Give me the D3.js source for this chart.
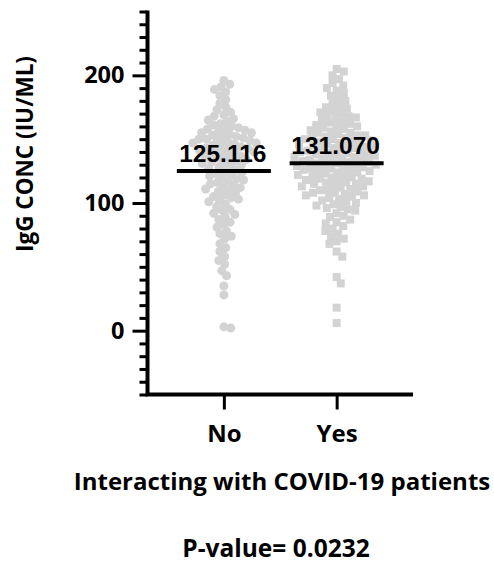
<!DOCTYPE html>
<html>
<head>
<meta charset="utf-8">
<script src="https://cdn.jsdelivr.net/npm/d3@7"></script>
<style>
  html, body { margin: 0; padding: 0; background: #fff; }
  svg { display: block; }
</style>
</head>
<body>
<svg id="chart" width="494" height="563"></svg>
<script>
// ---- data ----
const categories = ["No", "Yes"];
const noValues = [
  196, 193, 191, 189, 187, 184, 181,
  178, 175, 173, 171,
  169, 168, 166, 165, 164, 162, 161, 160,
  159, 158, 158, 157, 156, 155, 155, 154, 153, 152, 152, 151, 150, 150,
  149, 149, 148, 147, 147, 146, 145, 145, 144, 143, 143, 142, 141, 141, 140, 140,
  139, 138, 137, 136, 136, 135, 134, 133, 132, 132, 131, 130,
  129, 128, 127, 126, 125, 124, 123, 122, 121, 120,
  119, 118, 117, 116, 115, 114, 113, 112, 111, 110,
  109, 108, 106, 105, 104, 103, 102, 101,
  99, 97, 95, 94, 92, 91,
  89, 87, 85, 83, 81,
  78, 76, 74, 72,
  68, 65, 62,
  58, 55, 52,
  47, 43,
  35, 28,
  3, 2
];
const yesValues = [
  205, 203, 200, 197,
  194, 192, 190, 188, 186,
  184, 182, 180, 178, 176,
  175, 174, 172, 171, 170, 169, 168, 167, 166,
  165, 164, 163, 162, 161, 160, 160, 159, 158, 157, 156, 155,
  155, 154, 153, 153, 152, 151, 151, 150, 150, 149, 149, 148, 147, 147, 146, 146, 145, 145,
  144, 144, 143, 143, 142, 141, 141, 140, 140, 139, 139, 138, 138, 137, 137, 136, 136, 135,
  135, 134, 134, 133, 133, 132, 132, 131, 131, 130, 130, 129, 129, 128, 128, 127, 127, 126, 126, 125,
  125, 124, 124, 123, 122, 122, 121, 120, 120, 119, 119, 118, 118, 117, 116, 116, 115, 115,
  114, 113, 113, 112, 111, 110, 110, 109, 108, 108, 107, 106, 106, 105,
  104, 103, 102, 101, 100, 99, 98, 97, 96, 95,
  94, 92, 90, 89, 87, 85,
  84, 82, 80, 78, 76,
  74, 72, 70, 68,
  62, 58, 42, 37, 18, 6
];
const means = [125.116, 131.070];
const meanLabels = ["125.116", "131.070"];
const yMajorTicks = [0, 100, 200];
const yTickLabels = ["0", "100", "200"];
const yLabel = "IgG CONC (IU/ML)";
const xLabel = "Interacting with COVID-19 patients";
const pValueText = "P-value= 0.0232";

// ---- layout ----
const svg = d3.select("#chart");
const labelFont = "'Open Sans', Lato, sans-serif";
const numFont = "'Liberation Sans', Arial, sans-serif";
const grey = "#d3d3d3";

const y = d3.scaleLinear().domain([-50, 250]).range([394.5, 11.5]);
const x = d3.scalePoint().domain(categories).range([147.5, 413]).padding(0.677);

// beeswarm placement
function dodge(vals, d) {
  const placed = [];
  return vals.map(v => {
    const py = y(v);
    const near = placed.filter(p => Math.abs(p.y - py) < d);
    const cands = [0];
    near.forEach(p => {
      const dx = Math.sqrt(d * d - (p.y - py) ** 2);
      cands.push(p.x + dx, p.x - dx);
    });
    cands.sort((a, b) => Math.abs(a) - Math.abs(b));
    const px = cands.find(c => near.every(p => (p.x - c) ** 2 + (p.y - py) ** 2 >= d * d - 1e-6));
    placed.push({ x: px, y: py });
    return { v, x: px, y: py };
  });
}

const noPts = dodge(noValues, 7);
const yesPts = dodge(yesValues, 7.6);

// points
svg.append("g").selectAll("circle").data(noPts).join("circle")
  .attr("cx", d => x("No") + d.x)
  .attr("cy", d => d.y)
  .attr("r", 4.5)
  .attr("fill", grey);

const sq = 8;
svg.append("g").selectAll("rect").data(yesPts).join("rect")
  .attr("x", d => x("Yes") + d.x - sq / 2)
  .attr("y", d => d.y - sq / 2)
  .attr("width", sq)
  .attr("height", sq)
  .attr("fill", grey);

// mean lines
const meanG = svg.append("g");
meanG.selectAll("line").data(categories).join("line")
  .attr("x1", c => x(c) - 47)
  .attr("x2", c => x(c) + 47)
  .attr("y1", (c, i) => y(means[i]))
  .attr("y2", (c, i) => y(means[i]))
  .attr("stroke", "#000")
  .attr("stroke-width", 4);
meanG.selectAll("text").data(categories).join("text")
  .attr("x", c => x(c) - 1)
  .attr("y", (c, i) => y(means[i]) - 9)
  .attr("text-anchor", "middle")
  .attr("font-family", numFont)
  .attr("font-weight", "bold")
  .attr("font-size", 24.5)
  .attr("fill", "#000")
  .text((c, i) => meanLabels[i]);

// y axis minor ticks
const minorTicks = d3.range(-50, 251, 10).filter(v => !yMajorTicks.includes(v));
const yMinor = svg.append("g").attr("transform", "translate(147.5,0)")
  .call(d3.axisLeft(y).tickValues(minorTicks).tickSize(8).tickFormat(""));
yMinor.select(".domain").remove();
yMinor.selectAll(".tick line").attr("stroke", "#000").attr("stroke-width", 3);

// y axis major ticks
const yMajor = svg.append("g").attr("transform", "translate(147.5,0)")
  .call(d3.axisLeft(y).tickValues(yMajorTicks).tickSize(15).tickPadding(8)
    .tickFormat((d, i) => yTickLabels[i]));
yMajor.select(".domain").remove();
yMajor.selectAll(".tick line").attr("stroke", "#000").attr("stroke-width", 3);
yMajor.selectAll(".tick text")
  .attr("font-family", labelFont)
  .attr("font-weight", "bold")
  .attr("font-size", 23.5)
  .attr("fill", "#000");

// x axis
const xAxis = svg.append("g").attr("transform", "translate(0,394.5)")
  .call(d3.axisBottom(x).tickSize(15).tickSizeOuter(0).tickPadding(15));
xAxis.select(".domain").remove();
xAxis.selectAll(".tick line").attr("stroke", "#000").attr("stroke-width", 3);
xAxis.selectAll(".tick text")
  .attr("font-family", labelFont)
  .attr("font-weight", "bold")
  .attr("font-size", 24)
  .attr("fill", "#000");

// axis lines
svg.append("path")
  .attr("d", `M${x.range()[0]},${y.range()[1] - 1}V${y.range()[0]}H${x.range()[1]}`)
  .attr("fill", "none")
  .attr("stroke", "#000")
  .attr("stroke-width", 4)
  .attr("stroke-linejoin", "miter");

// titles
svg.append("text")
  .attr("transform", "translate(33,154) rotate(-90)")
  .attr("text-anchor", "middle")
  .attr("font-family", labelFont)
  .attr("font-weight", "bold")
  .attr("font-size", 22.5)
  .attr("fill", "#000")
  .text(yLabel);

svg.append("text")
  .attr("x", 282).attr("y", 490)
  .attr("text-anchor", "middle")
  .attr("font-family", labelFont)
  .attr("font-weight", "bold")
  .attr("font-size", 24)
  .attr("fill", "#000")
  .text(xLabel);

svg.append("text")
  .attr("x", 276).attr("y", 557)
  .attr("text-anchor", "middle")
  .attr("font-family", labelFont)
  .attr("font-weight", "bold")
  .attr("font-size", 24.5)
  .attr("fill", "#000")
  .text(pValueText);
</script>
</body>
</html>
